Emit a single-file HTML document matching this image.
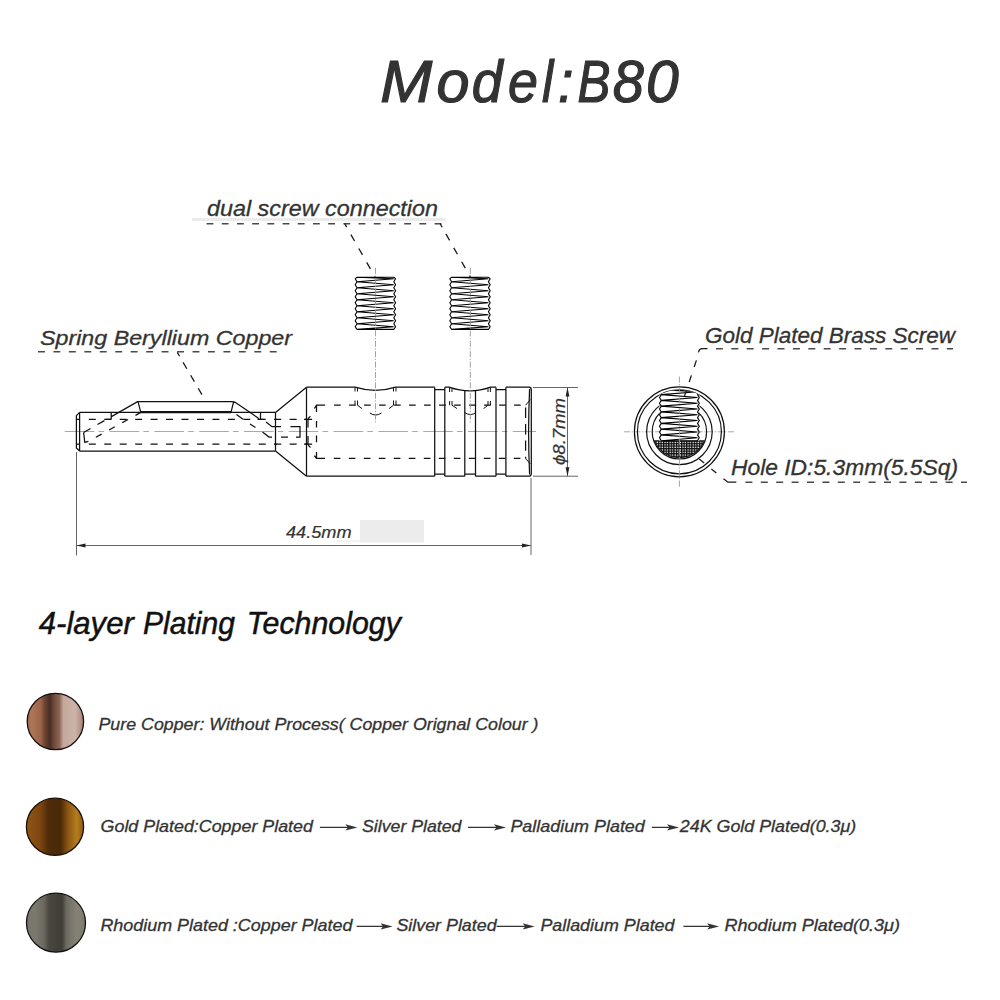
<!DOCTYPE html>
<html><head><meta charset="utf-8">
<style>
html,body{margin:0;padding:0;background:#fff;width:1000px;height:1000px;overflow:hidden}
svg{display:block}
text{font-family:"Liberation Sans",sans-serif;font-style:italic;stroke:currentColor;stroke-width:0.3px;paint-order:stroke}
.t1,.t1 text{stroke-width:1.2px}
.t2,.t2 text{stroke-width:0.5px}
.thin{stroke-width:0.2px}
</style></head><body>
<svg color="#333" width="1000" height="1000" viewBox="0 0 1000 1000">
<defs>
<pattern id="hatch" width="2.56" height="2.56" patternUnits="userSpaceOnUse">
<rect width="2.56" height="2.56" fill="#fff"/>
<path d="M0 0.65H2.56M0.65 0V2.56" stroke="#111" stroke-width="1.35"/>
</pattern>
<linearGradient id="gCu" x1="0" x2="1" y1="0" y2="0">
<stop offset="0" stop-color="#a06a55"/>
<stop offset="0.08" stop-color="#ad775a"/>
<stop offset="0.24" stop-color="#9c6448"/>
<stop offset="0.31" stop-color="#6e4433"/>
<stop offset="0.4" stop-color="#4a2e23"/>
<stop offset="0.5" stop-color="#7a5243"/>
<stop offset="0.57" stop-color="#8a6454"/>
<stop offset="0.64" stop-color="#c3a79b"/>
<stop offset="0.85" stop-color="#ccb4aa"/>
<stop offset="1" stop-color="#a88070"/>
</linearGradient>
<linearGradient id="gAu" x1="0" x2="1" y1="0" y2="0">
<stop offset="0" stop-color="#8f5615"/>
<stop offset="0.25" stop-color="#7c4510"/>
<stop offset="0.38" stop-color="#4e2c0a"/>
<stop offset="0.6" stop-color="#4a2908"/>
<stop offset="0.72" stop-color="#8a5414"/>
<stop offset="0.88" stop-color="#b47d1e"/>
<stop offset="1" stop-color="#8c5a14"/>
</linearGradient>
<linearGradient id="gRh" x1="0" x2="1" y1="0" y2="0">
<stop offset="0" stop-color="#7a776d"/>
<stop offset="0.15" stop-color="#7b786e"/>
<stop offset="0.3" stop-color="#6a675e"/>
<stop offset="0.38" stop-color="#4a4740"/>
<stop offset="0.6" stop-color="#3f3d37"/>
<stop offset="0.68" stop-color="#6e6b62"/>
<stop offset="0.86" stop-color="#868376"/>
<stop offset="1" stop-color="#7a776c"/>
</linearGradient>
<g id="screw">
<rect x="0" y="0" width="40.4" height="52.2" fill="#fff"/>
<g id="thr" fill="none" stroke="#000" stroke-width="1"></g>
</g>
</defs>

<!-- Title -->
<g class="t1" font-size="58.5" fill="#333" color="#333" font-style="italic"><text transform="translate(380.33 102) scale(1.067 1)">M</text><text transform="translate(436.39 102) scale(1.013 1)">o</text><text transform="translate(471.65 102) scale(0.947 1)">d</text><text transform="translate(508.08 102) scale(0.920 1)">e</text><text transform="translate(542.10 102) scale(0.867 1)">l</text><text transform="translate(558.00 102) scale(0.950 1)">:</text><text transform="translate(577.56 102) scale(0.843 1)">B</text><text transform="translate(612.84 102) scale(0.956 1)">8</text><text transform="translate(645.99 102) scale(1.006 1)">0</text></g>

<!-- labels -->
<text x="207" y="215.8" font-size="22" fill="#333" textLength="231" lengthAdjust="spacingAndGlyphs">dual screw connection</text>
<text x="40" y="344.8" font-size="21" fill="#333" textLength="252" lengthAdjust="spacingAndGlyphs">Spring Beryllium Copper</text>
<text x="705" y="342.5" font-size="22" fill="#333" textLength="250" lengthAdjust="spacingAndGlyphs">Gold Plated Brass Screw</text>
<text x="731" y="475.4" font-size="22" fill="#333" textLength="227" lengthAdjust="spacingAndGlyphs">Hole ID:5.3mm(5.5Sq)</text>

<!-- label underlines -->
<rect x="192" y="218" width="253.5" height="3" fill="#ebebeb"/>
<g stroke="#4a4a4a" stroke-width="1.5" fill="none">
<path d="M206.6 223.8H442" stroke-dasharray="6.8 8.4"/>
<path d="M38 351.7H285" stroke-dasharray="6.9 8.55"/>
<path d="M715.9 348.7H953" stroke-dasharray="7 8.4"/>
<path d="M745.4 482.2H967" stroke-dasharray="7 8.4"/>
</g>


<!-- dimension 44.5 -->
<rect x="360" y="520" width="64" height="22.4" fill="#ececec"/><rect x="337" y="540" width="23" height="2.2" fill="#f2f2f2"/>
<text class="thin" x="286" y="538.2" font-size="17" fill="#333" textLength="65.6" lengthAdjust="spacingAndGlyphs">44.5mm</text>
<g stroke="#666" stroke-width="1" fill="none">
<path d="M76.5 452V555.5M531 478V555M76.5 545.5H531"/>
<path d="M533 387.5H578M533 476.2H578M567.5 387.5V476.2"/>
</g>
<g fill="#222">
<path d="M76.5 545.5L85.5 543.6L85.5 547.4Z"/>
<path d="M531 545.5L522 543.6L522 547.4Z"/>
<path d="M567.5 387.5L565.6 396.5L569.4 396.5Z"/>
<path d="M567.5 476.2L565.6 467.2L569.4 467.2Z"/>
</g>
<text class="thin" transform="translate(564.5 465) rotate(-90)" font-size="16.5" fill="#333" textLength="67" lengthAdjust="spacingAndGlyphs">&#981;8.7mm</text>

<!-- centre lines -->
<g stroke="#aaa" stroke-width="1" fill="none" stroke-dasharray="29.6 4.2 5.6 5.4">
<path d="M64.8 431.5H536"/>
</g>
<path d="M624 431.8H734.6" stroke="#aaa" stroke-width="1" fill="none" stroke-dasharray="6 1.6 1.2 1.6"/>

<!-- connector side view -->
<g id="body" stroke="#111" stroke-width="1.25" fill="none" stroke-linejoin="round">
<!-- pin -->
<path d="M79.6 412.4H275.5M79.6 451H275.5M79.6 412.4L76.4 415.6V448L79.6 451M79.6 412.4V451M76.4 419.4H79.6M76.4 444.2H79.6"/>
<!-- spring -->
<path d="M111.2 419.4V412.4M105.5 419.4H111.2M111.4 416.6L137.6 401.6H232Q234 401.6 235.5 402.6L258.8 418.4M138 401.6L140.8 412.4M233.6 401.8L231 412.4M260.5 412.4V419.4M257.5 419.4H263.5"/>
<path d="M140.8 412.1H231" stroke-width="2.2"/>
<path d="M83.6 432.5L84.8 442.4L88.4 441.4"/>
<!-- cone -->
<path d="M275.5 412.4L306.5 387.2M275.5 451L306.5 476.2M275.5 412.4V451M306.5 387.2V476.2"/>
<!-- body outline -->
<path d="M306.5 387.2H355Q375.5 393.6 395.5 387.2H434.7M306.5 476.2H434.7"/>
<path d="M434.7 387.2V476.2M434.7 389.5H444.8M434.7 474H444.8M444.8 387.2V476.2"/>
<path d="M444.8 387.2H449Q470.3 394.6 490.6 387.2H496M444.8 476.2H464.8M475.5 476.2H496"/>
<path d="M464.8 390.4V476.2M475.5 390.4V476.2M464.8 474H475.5"/>
<path d="M496 387.2V476.2M496 389.5H505.9M496 474H505.9M505.9 387.2V476.2"/>
<path d="M505.9 387.2H528.8Q531.3 387.2 531.3 389.7V473.7Q531.3 476.2 528.8 476.2H505.9"/>
<path d="M529.6 389Q527.6 431.8 529.6 474.5"/>
</g>
<!-- hidden lines -->
<g stroke="#111" stroke-width="1.25" fill="none" stroke-dasharray="7 8.45">
<path d="M88.8 419.4H316M88.8 444.2H316"/>
</g>
<g stroke="#111" stroke-width="1.25" fill="none">
<path d="M83.6 432.5L111.4 416.6" stroke-dasharray="8 8"/>
<path d="M88.4 441.4L140.8 412.4" stroke-dasharray="6.6 8.5" stroke-dashoffset="6.6"/>
<path d="M236.5 414.5L243 419.3M250 424L255.5 427.5M262.5 432L269 437H272M281 437H288M296 437H300V426.7H290.5M281 426.7H272L266 422"/>
<path d="M310.5 416.2Q308.2 417.5 308 420V427.5M308 436V443.5Q308.2 446 310.5 447.5M304 419.4H308M304 444.2H308"/>
<path d="M314.4 408.5L316.5 405.1H325.1M316.5 405.1V412M316.5 420.9V427.6M316.5 435.5V442.3M316.5 452V458.4H325.1M314.4 455.6L316.5 458.4"/>
</g>
<g stroke="#111" stroke-width="1.25" fill="none" stroke-dasharray="6.6 8.4">
<path d="M334.1 405.1H526M333.8 458.4H526"/>
<path d="M525.6 407.6V458.4" stroke-dasharray="10.4 6"/>
</g>
<g stroke="#111" stroke-width="1" fill="none">
<path d="M525.6 405.2L530.4 399.6M525.6 458.4L530.4 464"/>
<path d="M357.5 405.2L362 408.6M393.5 405.2L389 408.6M370 413Q375.5 417 381.5 413"/>
<path d="M452 405.2L457 408.6M488 405.2L483.5 408.6M464.8 412.6Q470.3 416.5 476 412.6"/>
<path d="M355 387.5V391.5M357.5 388V391.5M355 400.5V405.2M357.5 400.5V405.2M393.5 388V391.5M396 387.5V391.5M393.5 400.5V405.2M396 400.5V405.2"/>
<path d="M449.6 387.6V392M452 388.4V392M449.6 401V405.2M452 401V405.2M488 388.4V392M490.4 387.6V392M488 401V405.2M490.4 401V405.2"/>
<path d="M274 419.4H277M274 444.2H277"/>
</g>

<!-- screws -->
<!--SCREWS-->
<rect x="355.2" y="277.2" width="40.4" height="52.2" fill="#fff"/>
<rect x="449.8" y="277.2" width="40.4" height="52.2" fill="#fff"/>
<path d="M357 277.2 L355.2 278.8 L357 281.8 L355.2 284.8 L357 287.8 L355.2 290.8 L357 293.8 L355.2 296.8 L357 299.8 L355.2 302.8 L357 305.8 L355.2 308.8 L357 311.8 L355.2 314.8 L357 317.8 L355.2 320.8 L357 323.8 L355.2 326.8 L357 329.4M393.8 277.2 L395.6 278.8 L393.8 281.8 L395.6 284.8 L393.8 287.8 L395.6 290.8 L393.8 293.8 L395.6 296.8 L393.8 299.8 L395.6 302.8 L393.8 305.8 L395.6 308.8 L393.8 311.8 L395.6 314.8 L393.8 317.8 L395.6 320.8 L393.8 323.8 L395.6 326.8 L393.8 329.4M357 277.2H393.8M357 329.4H393.8M357 281.8L393.8 278.8M357 281.8L393.8 284.8M357 287.8L393.8 284.8M357 287.8L393.8 290.8M357 293.8L393.8 290.8M357 293.8L393.8 296.8M357 299.8L393.8 296.8M357 299.8L393.8 302.8M357 305.8L393.8 302.8M357 305.8L393.8 308.8M357 311.8L393.8 308.8M357 311.8L393.8 314.8M357 317.8L393.8 314.8M357 317.8L393.8 320.8M357 323.8L393.8 320.8M357 323.8L393.8 326.8M357 277.2L393.8 278.8M357 329.4L393.8 326.8M451.6 277.2 L449.8 278.8 L451.6 281.8 L449.8 284.8 L451.6 287.8 L449.8 290.8 L451.6 293.8 L449.8 296.8 L451.6 299.8 L449.8 302.8 L451.6 305.8 L449.8 308.8 L451.6 311.8 L449.8 314.8 L451.6 317.8 L449.8 320.8 L451.6 323.8 L449.8 326.8 L451.6 329.4M488.4 277.2 L490.2 278.8 L488.4 281.8 L490.2 284.8 L488.4 287.8 L490.2 290.8 L488.4 293.8 L490.2 296.8 L488.4 299.8 L490.2 302.8 L488.4 305.8 L490.2 308.8 L488.4 311.8 L490.2 314.8 L488.4 317.8 L490.2 320.8 L488.4 323.8 L490.2 326.8 L488.4 329.4M451.6 277.2H488.4M451.6 329.4H488.4M451.6 281.8L488.4 278.8M451.6 281.8L488.4 284.8M451.6 287.8L488.4 284.8M451.6 287.8L488.4 290.8M451.6 293.8L488.4 290.8M451.6 293.8L488.4 296.8M451.6 299.8L488.4 296.8M451.6 299.8L488.4 302.8M451.6 305.8L488.4 302.8M451.6 305.8L488.4 308.8M451.6 311.8L488.4 308.8M451.6 311.8L488.4 314.8M451.6 317.8L488.4 314.8M451.6 317.8L488.4 320.8M451.6 323.8L488.4 320.8M451.6 323.8L488.4 326.8M451.6 277.2L488.4 278.8M451.6 329.4L488.4 326.8" fill="none" stroke="#000" stroke-width="1.1" stroke-linejoin="round"/>
<!--/SCREWS-->

<!-- end view -->
<g stroke="#111" stroke-width="1.2" fill="none">
<circle cx="679.4" cy="431.8" r="45"/>
<circle cx="679.4" cy="431.8" r="42"/>
<circle cx="679.4" cy="431.8" r="32.8"/>
<circle cx="679.4" cy="431.8" r="27.2"/>
</g>
<path d="M654.2 440.8H704.6A27.2 27.2 0 0 1 654.2 440.8Z" fill="url(#hatch)" stroke="#111" stroke-width="1"/>
<!--ESCREW-->
<clipPath id="ec"><circle cx="679.4" cy="431.8" r="42"/></clipPath>
<g clip-path="url(#ec)"><rect x="659.5" y="388" width="39.8" height="52.8" fill="#fff"/>
<path d="M661.3 389.8 L659.5 391.8 L661.3 394.68 L659.5 397.55 L661.3 400.43 L659.5 403.3 L661.3 406.18 L659.5 409.05 L661.3 411.93 L659.5 414.8 L661.3 417.68 L659.5 420.55 L661.3 423.43 L659.5 426.3 L661.3 429.18 L659.5 432.05 L661.3 434.93 L659.5 437.8 L661.3 440.8M697.5 389.8 L699.3 391.8 L697.5 394.68 L699.3 397.55 L697.5 400.43 L699.3 403.3 L697.5 406.18 L699.3 409.05 L697.5 411.93 L699.3 414.8 L697.5 417.68 L699.3 420.55 L697.5 423.43 L699.3 426.3 L697.5 429.18 L699.3 432.05 L697.5 434.93 L699.3 437.8 L697.5 440.8M661.3 389.8H697.5M661.3 440.8H697.5M661.3 394.68L697.5 391.8M661.3 394.68L697.5 397.55M661.3 400.43L697.5 397.55M661.3 400.43L697.5 403.3M661.3 406.18L697.5 403.3M661.3 406.18L697.5 409.05M661.3 411.93L697.5 409.05M661.3 411.93L697.5 414.8M661.3 417.68L697.5 414.8M661.3 417.68L697.5 420.55M661.3 423.43L697.5 420.55M661.3 423.43L697.5 426.3M661.3 429.18L697.5 426.3M661.3 429.18L697.5 432.05M661.3 434.93L697.5 432.05M661.3 434.93L697.5 437.8M661.3 389.8L697.5 391.8M661.3 440.8L697.5 437.8" fill="none" stroke="#000" stroke-width="1.15" stroke-linejoin="round"/></g>
<!--/ESCREW-->
<g stroke="#999" stroke-width="0.9" fill="none" stroke-dasharray="6 1.6 1.2 1.6">
<path d="M679.4 376.6V487"/>
<path d="M375.5 268V423"/>
<path d="M470.3 268V423"/>
</g>

<!-- 4-layer -->
<g class="t2" font-size="32" fill="#111" color="#111"><text x="38.8" y="634.3" textLength="95" lengthAdjust="spacingAndGlyphs">4-layer</text><text x="143" y="634.3" textLength="92" lengthAdjust="spacingAndGlyphs">Plating</text><text x="246.8" y="634.3" textLength="154" lengthAdjust="spacingAndGlyphs">Technology</text></g>

<circle cx="55.4" cy="721.5" r="28.2" fill="url(#gCu)" stroke="#1a1010" stroke-width="1.3"/>
<circle cx="55" cy="826.8" r="28.6" fill="url(#gAu)" stroke="#1a1008" stroke-width="1.3"/>
<circle cx="56" cy="922.7" r="29.5" fill="url(#gRh)" stroke="#111" stroke-width="1.3"/>

<g font-size="17" fill="#333">
<text x="98.5" y="729.8" textLength="440" lengthAdjust="spacingAndGlyphs">Pure Copper: Without Process( Copper Orignal Colour )</text>
<text x="100.6" y="832.2" textLength="212.3" lengthAdjust="spacingAndGlyphs">Gold Plated:Copper Plated</text>
<text x="362" y="832.2" textLength="99.4" lengthAdjust="spacingAndGlyphs">Silver Plated</text>
<text x="510.4" y="832.2" textLength="134.4" lengthAdjust="spacingAndGlyphs">Palladium Plated</text>
<text x="679.8" y="832.2" textLength="176.4" lengthAdjust="spacingAndGlyphs">24K Gold Plated(0.3&#956;)</text>
<text x="100.4" y="931.4" textLength="252" lengthAdjust="spacingAndGlyphs">Rhodium Plated :Copper Plated</text>
<text x="396.4" y="931.4" textLength="100.2" lengthAdjust="spacingAndGlyphs">Silver Plated</text>
<text x="540.4" y="931.4" textLength="134.1" lengthAdjust="spacingAndGlyphs">Palladium Plated</text>
<text x="724.5" y="931.4" textLength="175.5" lengthAdjust="spacingAndGlyphs">Rhodium Plated(0.3&#956;)</text>
</g>
<!-- arrows -->
<g stroke="#333" stroke-width="1.2"><path d="M319.9 827.4H348.4M467.9 827.4H497.0M651.8 827.4H670.0M356.6 926.4H383.6M496.6 926.4H525.7M683.4 926.4H710.1"/></g>
<g fill="#333"><path d="M357.4 827.4L345.4 824.3L347.9 827.4L345.4 830.5Z"/><path d="M506.0 827.4L494.0 824.3L496.5 827.4L494.0 830.5Z"/><path d="M679.0 827.4L667.0 824.3L669.5 827.4L667.0 830.5Z"/><path d="M392.6 926.4L380.6 923.3L383.1 926.4L380.6 929.5Z"/><path d="M534.7 926.4L522.7 923.3L525.2 926.4L522.7 929.5Z"/><path d="M719.1 926.4L707.1 923.3L709.6 926.4L707.1 929.5Z"/></g>
<g stroke="#1a1a1a" stroke-width="1.3" fill="none">
<path d="M344.8 223.8L375 277" stroke-dasharray="3.8 8.6 7.4 8.6 7.4 8.6 7.4 8.6 7.4 8.6"/>
<path d="M440.2 223.8L470.3 277" stroke-dasharray="4 7.6 7.4 8.6 7.4 8.6 7.4 8.6 7.4 8.6"/>
<path d="M177.3 352.4L202.2 395.1" stroke-dasharray="4.5 7 7.4 7.6 7.4 7.6 7.4 7.6"/>
<path d="M698.5 352.3Q699.3 348.7 702 348.7H707.5"/>
<path d="M696.4 360.4L684.5 396" stroke-dasharray="7 8.8"/>
<path d="M699.2 459.1L727.9 482.2H736.3" stroke-dasharray="6.4 9.2 6.4 9.2 6.4 0 20"/>
</g>
</svg>
</body></html>
